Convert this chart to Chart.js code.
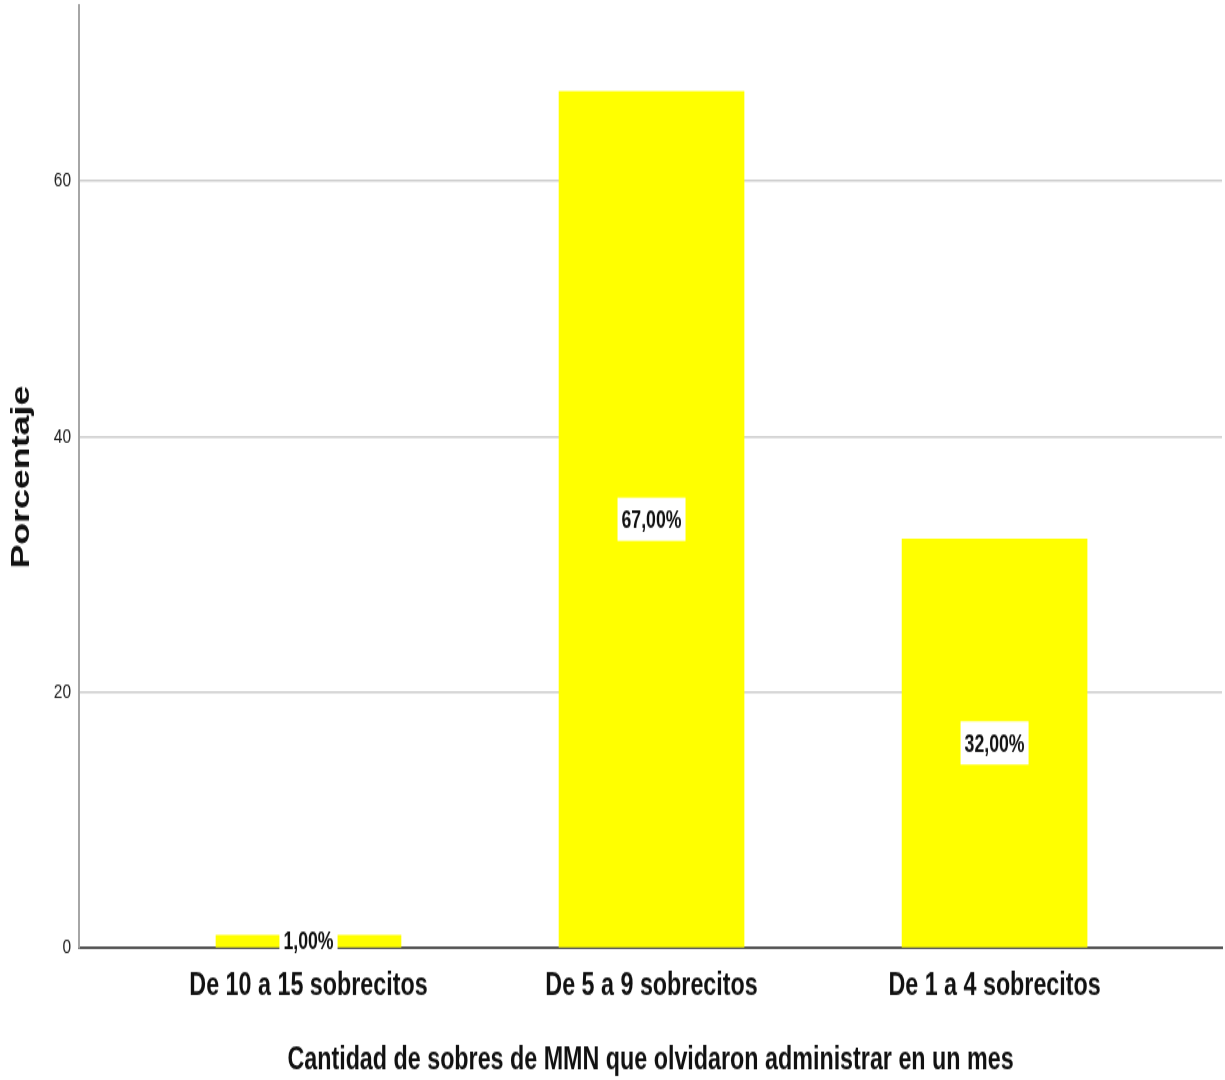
<!DOCTYPE html>
<html>
<head>
<meta charset="utf-8">
<script src="https://cdn.jsdelivr.net/npm/chart.js@4/dist/chart.umd.min.js"></script>
<style>
  html, body { margin: 0; padding: 0; background: #ffffff; }
  #c { display: block; width: 1225px; height: 1080px; }
</style>
</head>
<body>
<canvas id="c" width="1225" height="800"></canvas>
<script>
// Categories and their percentages
const categories = ['De 10 a 15 sobrecitos', 'De 5 a 9 sobrecitos', 'De 1 a 4 sobrecitos'];
const percentages = [1, 67, 32];
const yTickValues = [0, 20, 40, 60];
const xAxisTitle = 'Cantidad de sobres de MMN que olvidaron administrar en un mes';
const yAxisTitle = 'Porcentaje';

const SANS = '"Liberation Sans", Arial, sans-serif';

// Drawing surface is 800 tall, shown 1080 tall (taller glyphs, same widths)
const H = 800;
const PLOT_BOTTOM = 702.2;

const fmtPct = v => v.toFixed(2).replace('.', ',') + '%';

// Writes each bar's value inside a white box at the middle of the bar
const barValueLabels = {
  id: 'barValueLabels',
  afterDatasetsDraw(chart) {
    const ctx = chart.ctx;
    const meta = chart.getDatasetMeta(0);
    ctx.save();
    ctx.font = 'bold 17.7px ' + SANS;
    ctx.textAlign = 'center';
    ctx.textBaseline = 'middle';
    meta.data.forEach((bar, i) => {
      const { x, y, base } = bar.getProps(['x', 'y', 'base'], true);
      const cy = (y + base) / 2;
      const text = fmtPct(percentages[i]);
      const w = ctx.measureText(text).width + 8;
      const h = 32;
      ctx.fillStyle = '#ffffff';
      ctx.fillRect(x - w / 2, cy - h / 2, w, h);
      ctx.fillStyle = '#111111';
      ctx.fillText(text, x, cy + 1.5);
    });
    ctx.restore();
  }
};

const chart = new Chart(document.getElementById('c'), {
  type: 'bar',
  data: {
    datasets: [{
      data: percentages.map((v, i) => ({ x: i, y: v })),
      backgroundColor: '#ffff00',
      borderWidth: 0,
      barThickness: 185
    }]
  },
  options: {
    responsive: false,
    devicePixelRatio: 1,
    animation: false,
    layout: { padding: { left: 0, top: 4.4, right: 3, bottom: 0 } },
    plugins: {
      legend: { display: false },
      tooltip: { enabled: false }
    },
    scales: {
      x: {
        type: 'linear',
        offset: false,
        min: -0.669,
        max: 2.663,
        afterBuildTicks: s => { s.ticks = categories.map((c, i) => ({ value: i })); },
        afterFit: s => {
          s.height = H - PLOT_BOTTOM;
          s.paddingLeft = 0; s.paddingRight = 0;
        },
        grid: { display: false, drawTicks: false },
        border: { display: true, color: '#555555', width: 2 },
        ticks: {
          autoSkip: false,
          maxRotation: 0,
          padding: 14,
          color: '#111111',
          font: { family: SANS, size: 23.3, weight: 'bold' },
          callback: v => categories[v]
        },
        title: {
          display: true,
          text: xAxisTitle,
          color: '#111111',
          font: { family: SANS, size: 23.3, weight: 'bold' },
          padding: { top: 0, bottom: 0 }
        }
      },
      y: {
        min: 0,
        max: 73.7,
        afterBuildTicks: s => { s.ticks = yTickValues.map(v => ({ value: v })); },
        afterFit: s => {
          s.width = 79;
          s.paddingTop = 0; s.paddingBottom = 0;
        },
        grid: {
          drawTicks: false,
          color: ctx => (ctx.tick && ctx.tick.value === 0) ? 'rgba(0,0,0,0)' : '#cccccc',
          lineWidth: 1.6
        },
        border: { display: true, color: '#a6a6a6', width: 2 },
        ticks: {
          padding: 8,
          color: '#222222',
          font: { family: SANS, size: 15.5 }
        },
        title: {
          display: true,
          text: yAxisTitle,
          color: '#111111',
          font: { family: SANS, size: 26.5, weight: 'bold' },
          padding: { top: 6, bottom: 0 }
        }
      }
    }
  },
  plugins: [barValueLabels]
});

// keep the stretched display size
const cv = document.getElementById('c');
cv.style.width = '1225px';
cv.style.height = '1080px';
</script>
</body>
</html>
